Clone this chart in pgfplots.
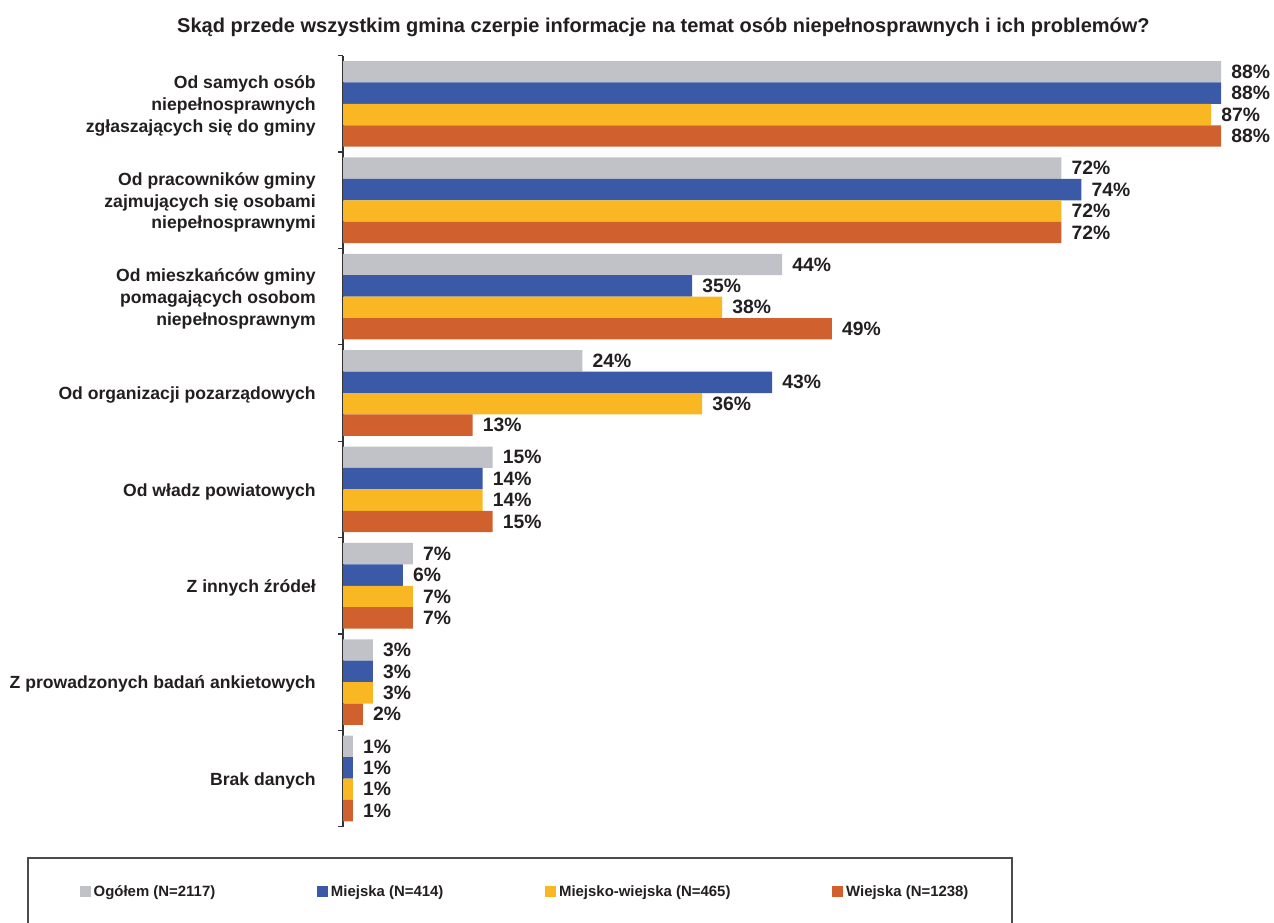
\documentclass[border=0pt]{standalone}
\usepackage{pgfplots}
\pgfplotsset{compat=1.18}
\usepackage{fontspec}
\setmainfont{Liberation Sans}
\definecolor{cgray}{RGB}{192,194,200}
\definecolor{cblue}{RGB}{58,90,167}
\definecolor{cyellow}{RGB}{249,184,35}
\definecolor{corange}{RGB}{208,96,46}
\definecolor{ctext}{RGB}{35,31,32}
\begin{document}
\begin{tikzpicture}
\useasboundingbox (0pt,0pt) rectangle (955.5pt,691.5pt);
\node[anchor=base, inner sep=0pt, text=ctext, font=\fontsize{15pt}{18pt}\selectfont\bfseries] at (497.6pt,667.1pt)
  {Skąd przede wszystkim gmina czerpie informacje na temat osób niepełnosprawnych i ich problemów?};
\draw[line width=1.2pt, draw=black!70] (21pt,-20pt) -- (21pt,48pt) -- (759pt,48pt) -- (759pt,-20pt);
\begin{axis}[
  at={(257.25pt,71.475pt)}, anchor=south west,
  scale only axis, width=658.5pt, height=578.25pt,
  xbar, xmin=0, xmax=88, ymin=-0.5, ymax=7.5,
  clip=false,
  bar width=0.222,
  axis x line=none, axis y line*=left,
  y axis line style={-, draw=black!80, line width=0.9pt},
  ytick={0,1,2,3,4,5,6,7},
  major tick length=0pt,
  minor ytick={-0.5,0.5,1.5,2.5,3.5,4.5,5.5,6.5,7.5},
  minor tick length=3.75pt, tick align=outside,
  minor tick style={draw=black!80, line width=0.9pt},
  yticklabels={Brak danych, Z prowadzonych badań ankietowych, Z innych źródeł, Od władz powiatowych, Od organizacji pozarządowych, {Od mieszkańców gminy\\pomagających osobom\\niepełnosprawnym}, {Od pracowników gminy\\zajmujących się osobami\\niepełnosprawnymi}, {Od samych osób\\niepełnosprawnych\\zgłaszających się do gminy}},
  yticklabel style={align=right, anchor=east, inner sep=0pt, xshift=-20.25pt, yshift=-1.6pt, text=ctext, font=\fontsize{13.2pt}{16.4pt}\selectfont\bfseries},
  point meta=x,
  /pgf/number format/assume math mode=true,
  nodes near coords={\pgfmathprintnumber{\pgfplotspointmeta}\%},
  nodes near coords style={anchor=west, inner sep=0pt, xshift=7.5pt, text=ctext, font=\fontsize{14.5pt}{17pt}\selectfont\bfseries},
  legend columns=4,
  legend style={at={(-0.2995,-0.0843)}, anchor=west, draw=none, inner sep=0pt, outer sep=0pt,
    font=\fontsize{11.2pt}{13pt}\selectfont\bfseries, text=ctext,
    /tikz/every even column/.append style={column sep=74.5pt}},
  legend image code/.code={\fill[#1] (0pt,-4.125pt) rectangle (8.25pt,4.125pt);},
]
\addplot[fill=cgray, draw=none, bar shift=0.333] coordinates {(88,7) (72,6) (44,5) (24,4) (15,3) (7,2) (3,1) (1,0)};
\addplot[fill=cblue, draw=none, bar shift=0.111] coordinates {(88,7) (74,6) (35,5) (43,4) (14,3) (6,2) (3,1) (1,0)};
\addplot[fill=cyellow, draw=none, bar shift=-0.111] coordinates {(87,7) (72,6) (38,5) (36,4) (14,3) (7,2) (3,1) (1,0)};
\addplot[fill=corange, draw=none, bar shift=-0.333] coordinates {(88,7) (72,6) (49,5) (13,4) (15,3) (7,2) (2,1) (1,0)};
\legend{Ogółem (N=2117), Miejska (N=414), Miejsko-wiejska (N=465), Wiejska (N=1238)}
\end{axis}
\end{tikzpicture}
\end{document}
